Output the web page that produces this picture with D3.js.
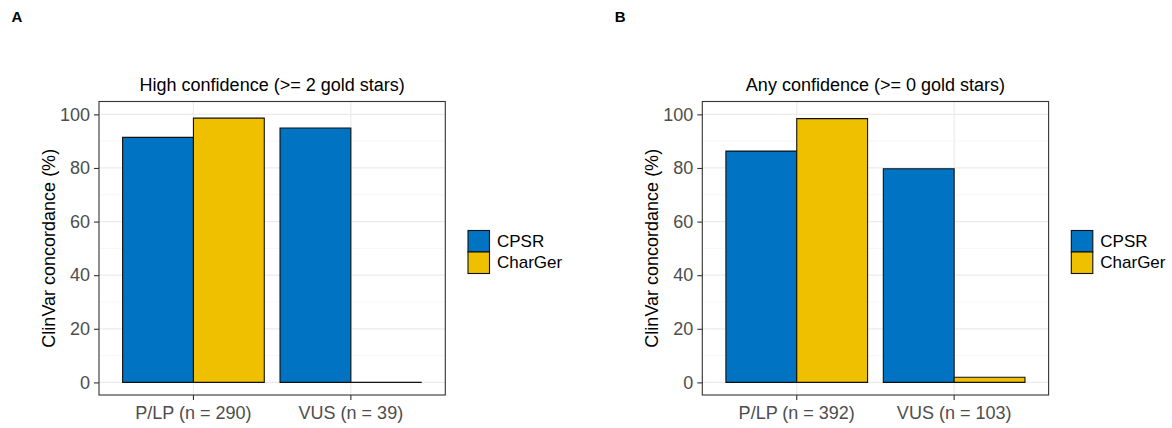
<!DOCTYPE html>
<html>
<head>
<meta charset="utf-8">
<script src="https://cdn.jsdelivr.net/npm/d3@7"></script>
<style>
  html, body { margin: 0; padding: 0; background: #fff; }
  svg { display: block; font-family: "Liberation Sans", Arial, Helvetica, sans-serif; }
</style>
</head>
<body>
<svg id="chart" width="1172" height="428"></svg>
<script>
// values
const tools = ['CPSR', 'CharGer'];
const toolColors = ['#0073C2', '#EFC000'];
const yTicks = [0, 20, 40, 60, 80, 100];
const yMinor = [10, 30, 50, 70, 90];

const catsA = ['P/LP (n = 290)', 'VUS (n = 39)'];
const cpsrA = [91.4, 94.9];
const chargerA = [98.6, 0];

const catsB = ['P/LP (n = 392)', 'VUS (n = 103)'];
const cpsrB = [86.3, 79.7];
const chargerB = [98.4, 1.9];

const panels = [
  { tag: 'A', title: 'High confidence (>= 2 gold stars)', cats: catsA, values: [cpsrA, chargerA], dx: 0 },
  { tag: 'B', title: 'Any confidence (>= 0 gold stars)', cats: catsB, values: [cpsrB, chargerB], dx: 603.3 }
];

const svg = d3.select('#chart');
const m = { left: 99, top: 101.5 };
const PW = 346.3, PH = 293.5;

function barPath(x0, x1, y0, y1) {
  return `M${x0},${y0}H${x1}V${y1}H${x0}Z`;
}

panels.forEach(p => {
  const root = svg.append('g').attr('transform', `translate(${p.dx},0)`);

  root.append('text').attr('x', 11.5).attr('y', 22)
    .attr('font-size', 15).attr('font-weight', 'bold').text(p.tag);

  const g = root.append('g').attr('transform', `translate(${m.left},${m.top})`);

  const x = d3.scaleBand().domain(p.cats).range([0, PW]).paddingInner(0.1).paddingOuter(0.15);
  const xs = d3.scaleBand().domain(tools).range([0, x.bandwidth()]);
  const y = d3.scaleLinear().domain([-4.7, 104.8]).range([PH, 0]);

  // grid
  g.selectAll('.minor').data(yMinor).join('line')
    .attr('x1', 0).attr('x2', PW).attr('y1', d => y(d)).attr('y2', d => y(d))
    .attr('stroke', '#f2f2f2').attr('stroke-width', 0.7);
  g.selectAll('.major').data(yTicks).join('line')
    .attr('x1', 0).attr('x2', PW).attr('y1', d => y(d)).attr('y2', d => y(d))
    .attr('stroke', '#ebebeb').attr('stroke-width', 1.2);
  g.selectAll('.vgrid').data(p.cats).join('line')
    .attr('x1', d => x(d) + x.bandwidth() / 2).attr('x2', d => x(d) + x.bandwidth() / 2)
    .attr('y1', 0).attr('y2', PH)
    .attr('stroke', '#ebebeb').attr('stroke-width', 1.2);

  // bars
  const rows = [];
  p.cats.forEach((c, i) => tools.forEach((t, j) => rows.push({ cat: c, tool: t, value: p.values[j][i], color: toolColors[j] })));
  g.selectAll('path.bar').data(rows).join('path')
    .attr('class', 'bar')
    .attr('d', d => barPath(x(d.cat) + xs(d.tool), x(d.cat) + xs(d.tool) + xs.bandwidth(), y(0), y(d.value)))
    .attr('fill', d => d.color)
    .attr('stroke', '#111').attr('stroke-width', 1.1);

  // panel border
  g.append('rect').attr('x', 0).attr('y', 0).attr('width', PW).attr('height', PH)
    .attr('fill', 'none').attr('stroke', '#333').attr('stroke-width', 1.1);

  // axes
  const ya = g.append('g').call(d3.axisLeft(y).tickValues(yTicks).tickSize(5).tickPadding(4));
  const xa = g.append('g').attr('transform', `translate(0,${PH})`)
    .call(d3.axisBottom(x).tickSize(5).tickPadding(6));
  [ya, xa].forEach(a => {
    a.select('.domain').remove();
    a.selectAll('line').attr('stroke', '#333').attr('stroke-width', 1.1);
    a.selectAll('text').attr('fill', '#4d4d4d').attr('font-size', 18)
      .style('font-family', '"Liberation Sans", Arial, Helvetica, sans-serif');
  });

  // titles
  root.append('text').attr('x', m.left + PW / 2).attr('y', 91)
    .attr('text-anchor', 'middle').attr('font-size', 18).text(p.title);
  root.append('text')
    .attr('transform', `translate(55,${m.top + PH / 2}) rotate(-90)`)
    .attr('text-anchor', 'middle').attr('font-size', 18).text('ClinVar concordance (%)');

  // legend
  const lg = root.append('g').attr('transform', 'translate(468,230.5)');
  const key = 21.5;
  tools.forEach((t, j) => {
    lg.append('rect').attr('x', 0).attr('y', j * key).attr('width', key).attr('height', key)
      .attr('fill', toolColors[j]).attr('stroke', '#111').attr('stroke-width', 1.1);
    lg.append('text').attr('x', 29).attr('y', j * key + key / 2)
      .attr('dominant-baseline', 'central').attr('font-size', 17).text(t);
  });
});
</script>
</body>
</html>
